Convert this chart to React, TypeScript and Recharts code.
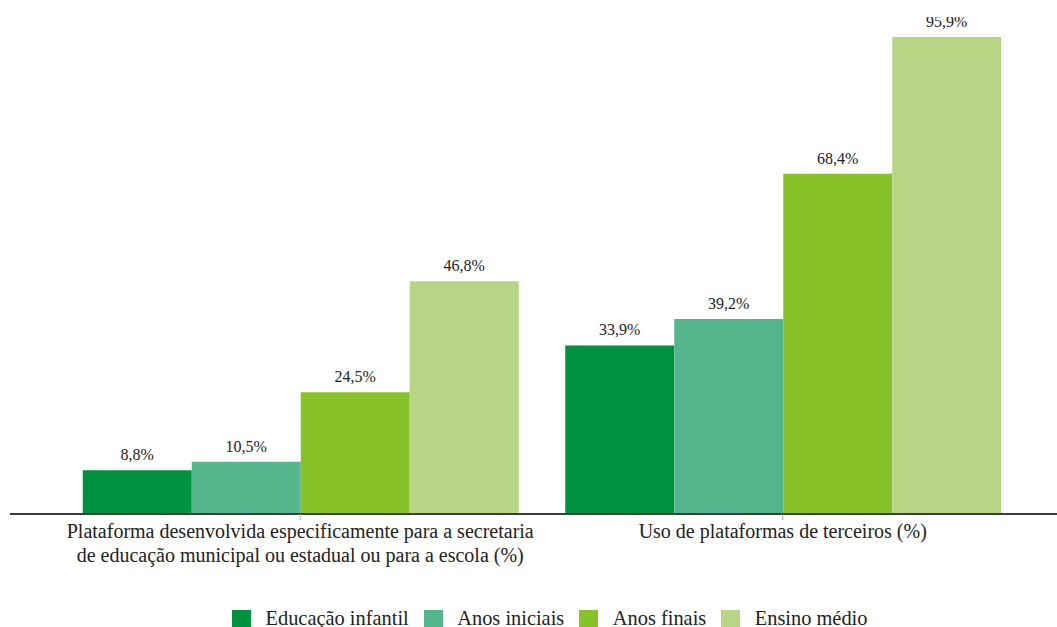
import React from 'react';
import { BarChart, Bar, XAxis, YAxis, Legend, LabelList } from 'recharts';

const categories = [
  'Plataforma desenvolvida especificamente para a secretaria\nde educação municipal ou estadual ou para a escola (%)',
  'Uso de plataformas de terceiros (%)',
];
const seriesNames = ['Educação infantil', 'Anos iniciais', 'Anos finais', 'Ensino médio'];
const educacaoInfantil = [8.8, 33.9];
const anosIniciais = [10.5, 39.2];
const anosFinais = [24.5, 68.4];
const ensinoMedio = [46.8, 95.9];
const seriesColors = ['#00913f', '#55b58d', '#86c228', '#b7d585'];

const seriesValues = [educacaoInfantil, anosIniciais, anosFinais, ensinoMedio];
const keys = ['s0', 's1', 's2', 's3'];

const data = categories.map((c, i) => {
  const row: any = { name: c };
  keys.forEach((k, j) => {
    row[k] = seriesValues[j][i];
  });
  return row;
});

const FONT = "'Liberation Serif', 'Times New Roman', serif";

const fmt = (v: any) => `${Number(v).toFixed(1).replace('.', ',')}%`;

const CustomTick = (props: any) => {
  const { x, y, payload } = props;
  const lines = String(payload.value).split('\n');
  return (
    <text x={x} y={y} textAnchor="middle" style={{ fontFamily: FONT, fontSize: 20 }} fill="#222">
      {lines.map((l, i) => (
        <tspan key={i} x={x} dy={i === 0 ? 16 : 24}>
          {l}
        </tspan>
      ))}
    </text>
  );
};

const CustomLegend = () => (
  <div
    style={{
      height: 53,
      paddingTop: 36,
      paddingLeft: 222,
      boxSizing: 'border-box',
      display: 'flex',
      justifyContent: 'flex-start',
      fontFamily: FONT,
      fontSize: 20.4,
      color: '#222',
      lineHeight: '20px',
    }}
  >
    {seriesNames.map((n, i) => (
      <div key={n} style={{ display: 'flex', alignItems: 'flex-start', marginRight: 15 }}>
        <div style={{ width: 19, height: 19, background: seriesColors[i], marginRight: 14.5, flexShrink: 0 }} />
        <span style={{ whiteSpace: 'nowrap', marginTop: -2 }}>{n}</span>
      </div>
    ))}
  </div>
);

export default function App() {
  return (
    <div
      style={{
        position: 'absolute',
        left: 0,
        top: 0,
        width: 1057,
        height: 627,
        overflow: 'hidden',
        clipPath: 'inset(17px 0 0 0)',
        background: '#fff',
        fontFamily: FONT,
      }}
    >
      <BarChart
        width={1057}
        height={627}
        data={data}
        margin={{ top: 37, right: 0, left: 10, bottom: 0 }}
        barCategoryGap={23.75}
        barGap={0}
        style={{ fontFamily: FONT }}
      >
        <XAxis
          dataKey="name"
          height={60}
          padding={{ left: 49, right: 33 }}
          axisLine={{ stroke: '#3c3c3c', strokeWidth: 2 }}
          tickLine={{ stroke: '#aaaaaa' }}
          tickSize={6}
          tick={<CustomTick />}
          interval={0}
        />
        <YAxis hide domain={[0, 'dataMax']} />
        <Legend verticalAlign="bottom" content={<CustomLegend />} />
        {keys.map((k, i) => (
          <Bar key={k} dataKey={k} name={seriesNames[i]} fill={seriesColors[i]} isAnimationActive={false}>
            <LabelList
              dataKey={k}
              position="top"
              offset={10}
              formatter={fmt}
              style={{ fontFamily: FONT, fontSize: 16, fill: '#222' }}
            />
          </Bar>
        ))}
      </BarChart>
    </div>
  );
}
